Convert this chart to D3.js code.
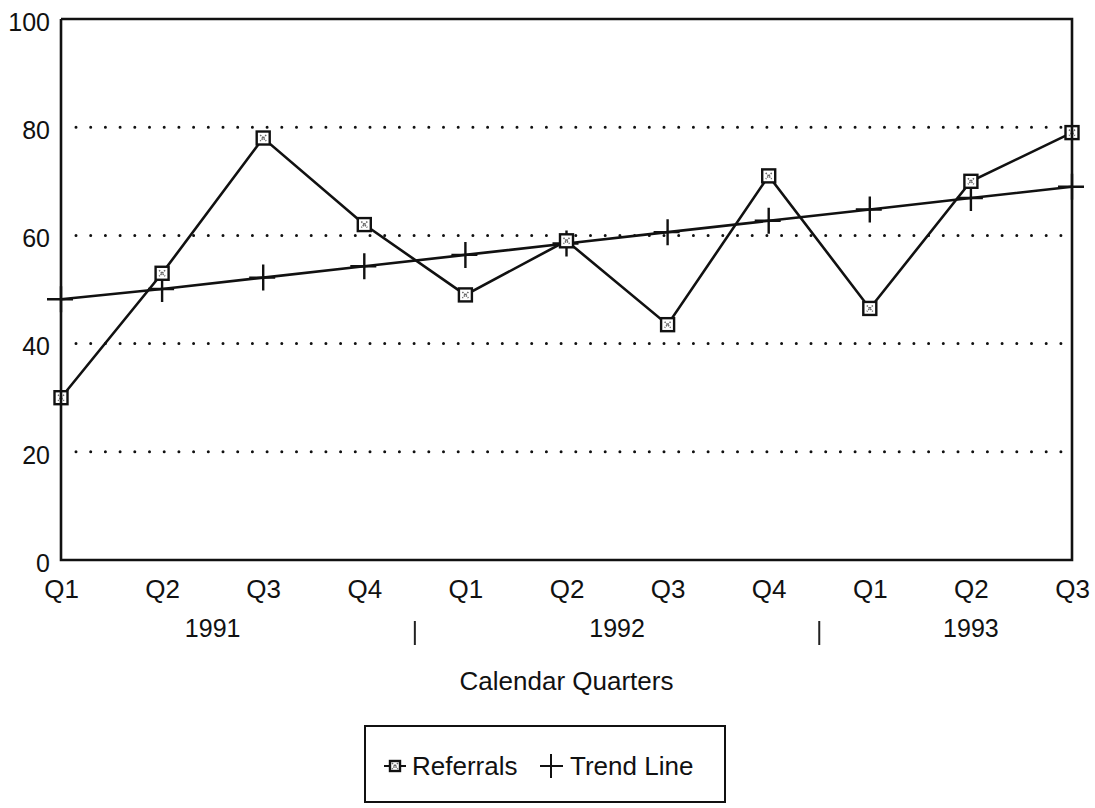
<!DOCTYPE html>
<html>
<head>
<meta charset="utf-8">
<script src="https://cdn.jsdelivr.net/npm/d3@7"></script>
<style>
  body { margin: 0; background: #fff; }
  svg text { font-family: "Liberation Sans", Arial, sans-serif; fill: #111; }
</style>
</head>
<body>
<svg id="chart" width="1095" height="808"></svg>
<script>
// quarter labels along the x axis, and the year each one belongs to
var quarters = ["Q1", "Q2", "Q3", "Q4", "Q1", "Q2", "Q3", "Q4", "Q1", "Q2", "Q3"];
var quarterYear = ["1991", "1991", "1991", "1991", "1992", "1992", "1992", "1992", "1993", "1993", "1993"];
var years = ["1991", "1992", "1993"];
var referrals = [30, 53, 78, 62, 49, 59, 43.5, 71, 46.5, 70, 79];
var trend = [48.2, 50.1, 52.2, 54.3, 56.4, 58.5, 60.6, 62.7, 64.8, 66.9, 69.0];
var yTicks = [0, 20, 40, 60, 80, 100];
var gridTicks = [20, 40, 60, 80];

var margin = { top: 19, right: 23, bottom: 248, left: 61 },
    width = 1095 - margin.left - margin.right,
    height = 808 - margin.top - margin.bottom;

var idx = d3.range(quarters.length);
var x = d3.scalePoint().domain(idx).range([0, width]);
var y = d3.scaleLinear().domain([0, 100]).range([height, 0]);

var svg = d3.select("#chart");
var chart = svg.append("g")
    .attr("transform", "translate(" + margin.left + "," + margin.top + ")");

// dotted grid lines
chart.selectAll(".grid")
    .data(gridTicks)
    .enter().append("line")
    .attr("x1", 15).attr("x2", width - 3)
    .attr("y1", function(d) { return y(d); })
    .attr("y2", function(d) { return y(d); })
    .attr("stroke", "#111")
    .attr("stroke-width", 3)
    .attr("stroke-linecap", "round")
    .attr("stroke-dasharray", "0,14.7");

// y axis labels (no tick marks)
var yAxis = d3.axisLeft(y).tickValues(yTicks).tickSize(0).tickPadding(11);
var yg = chart.append("g").call(yAxis);
yg.select(".domain").remove();
yg.selectAll("text")
    .style("font-size", "25px")
    .attr("dy", "0.45em");

// x axis quarter labels
var xAxis = d3.axisBottom(x).tickSize(0).tickPadding(0)
    .tickFormat(function(i) { return quarters[i]; });
var xg = chart.append("g").attr("transform", "translate(0," + height + ")").call(xAxis);
xg.select(".domain").remove();
xg.selectAll("text")
    .style("font-size", "26px")
    .attr("dy", null)
    .attr("y", 38);

// year labels centred under their quarters
chart.selectAll(".year")
    .data(years)
    .enter().append("text")
    .attr("x", function(yr) {
        var pos = idx.filter(function(i) { return quarterYear[i] === yr; }).map(x);
        return d3.mean(pos);
    })
    .attr("y", height + 77)
    .attr("text-anchor", "middle")
    .style("font-size", "25px")
    .text(function(d) { return d; });

// separators between years
var breaks = idx.filter(function(i) { return i > 0 && quarterYear[i] !== quarterYear[i - 1]; });
chart.selectAll(".sep")
    .data(breaks)
    .enter().append("line")
    .attr("x1", function(i) { return (x(i) + x(i - 1)) / 2; })
    .attr("x2", function(i) { return (x(i) + x(i - 1)) / 2; })
    .attr("y1", height + 61).attr("y2", height + 85)
    .attr("stroke", "#222").attr("stroke-width", 2);

chart.append("text")
    .attr("x", width / 2)
    .attr("y", height + 130)
    .attr("text-anchor", "middle")
    .style("font-size", "26px")
    .text("Calendar Quarters");

// trend line
var line = d3.line()
    .x(function(d, i) { return x(i); })
    .y(function(d) { return y(d); });

chart.append("path")
    .datum(trend)
    .attr("d", line)
    .attr("fill", "none")
    .attr("stroke", "#111")
    .attr("stroke-width", 2.6);

chart.selectAll(".plus")
    .data(trend)
    .enter().append("path")
    .attr("transform", function(d, i) { return "translate(" + x(i) + "," + y(d) + ")"; })
    .attr("d", "M-14,0H12M0,-13V13")
    .attr("fill", "none")
    .attr("stroke", "#111")
    .attr("stroke-width", 2.4);

// referrals line
chart.append("path")
    .datum(referrals)
    .attr("d", line)
    .attr("fill", "none")
    .attr("stroke", "#111")
    .attr("stroke-width", 2.6);

function squareMarker(sel, s) {
    sel.append("rect")
        .attr("x", -s / 2).attr("y", -s / 2)
        .attr("width", s).attr("height", s)
        .attr("fill", "#fff")
        .attr("stroke", "#111")
        .attr("stroke-width", 2.4);
    sel.append("path")
        .attr("d", "M-3,-3L3,3M3,-3L-3,3")
        .attr("stroke", "#666")
        .attr("stroke-width", 1.5)
        .attr("stroke-dasharray", "1.5,1");
}

chart.selectAll(".ref")
    .data(referrals)
    .enter().append("g")
    .attr("transform", function(d, i) { return "translate(" + x(i) + "," + y(d) + ")"; })
    .call(squareMarker, 13);

// frame: left, bottom, top, right
chart.append("path")
    .attr("d", "M0,0V" + height + "H" + width + "V0H0")
    .attr("fill", "none")
    .attr("stroke", "#111")
    .attr("stroke-width", 2.6);

// legend
var legend = svg.append("g");
legend.append("rect")
    .attr("x", 365).attr("y", 726)
    .attr("width", 360).attr("height", 76)
    .attr("fill", "#fff")
    .attr("stroke", "#111")
    .attr("stroke-width", 2);

legend.append("line")
    .attr("x1", 384).attr("x2", 406)
    .attr("y1", 766).attr("y2", 766)
    .attr("stroke", "#111").attr("stroke-width", 2);
legend.append("g")
    .attr("transform", "translate(395,766)")
    .call(squareMarker, 10);
legend.append("text")
    .attr("x", 412).attr("y", 775)
    .style("font-size", "26px")
    .text("Referrals");

legend.append("path")
    .attr("d", "M540,766H563M551,754V778")
    .attr("stroke", "#111").attr("stroke-width", 2);
legend.append("text")
    .attr("x", 570).attr("y", 775)
    .style("font-size", "26px")
    .text("Trend Line");
</script>
</body>
</html>
